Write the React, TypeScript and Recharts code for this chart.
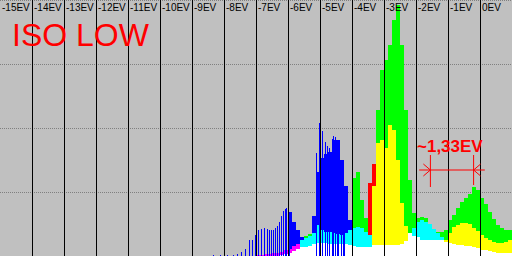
import React from "react";
import { ComposedChart, Area, Bar, XAxis, YAxis, CartesianGrid, ReferenceLine } from "recharts";

// histogram bins: 4px wide, starting at -7EV, 1/8 EV per bin
const binStart = -7;
const binStep = 0.125;

const blueBody = [
  0, 0, 0, 0, 0, 0, 0, 0, 44, 34, 26, 19, 19, 22, 40, 84,
  98, 102, 104, 116, 116, 96, 70, 36, 0, 0, 0, 0, 0, 0, 0, 0,
  0, 0, 0, 0, 0, 0, 0, 0, 0, 0, 0, 27, 24, 0, 0, 0,
  0, 0, 0, 0, 0, 0, 0, 0, 0, 0, 0, 0, 0, 0, 0, 0,
];
const green = [
  0, 0, 0, 0, 0, 0, 0, 0, 0, 0, 0, 0, 20, 22, 16, 0,
  0, 0, 0, 0, 0, 0, 0, 0, 78, 84, 56, 38, 28, 26, 146, 186,
  196, 211, 236, 251, 211, 146, 76, 43, 38, 39, 38, 31, 26, 24, 24, 26,
  36, 41, 48, 54, 58, 62, 69, 66, 58, 52, 44, 37, 31, 28, 26, 26,
];
const red = [
  0, 0, 0, 0, 0, 0, 0, 0, 0, 0, 0, 0, 0, 0, 0, 0,
  0, 0, 0, 0, 0, 0, 0, 0, 0, 0, 0, 0, 73, 92, 0, 0,
  0, 0, 0, 0, 0, 0, 0, 0, 0, 0, 0, 0, 0, 0, 0, 0,
  0, 0, 0, 0, 0, 0, 0, 0, 0, 0, 0, 0, 0, 0, 0, 0,
];
const yellow = [
  0, 0, 0, 0, 0, 0, 0, 0, 0, 0, 0, 0, 0, 0, 0, 0,
  0, 0, 0, 0, 0, 0, 0, 0, 0, 0, 0, 0, 16, 70, 113, 116,
  108, 131, 126, 96, 53, 30, 23, 0, 0, 0, 0, 0, 0, 0, 0, 16,
  23, 29, 31, 33, 33, 32, 28, 25, 21, 18, 16, 14, 13, 13, 14, 16,
];
const magenta = [
  1, 1, 2, 2, 3, 3, 4, 6, 7, 10, 12, 0, 0, 0, 0, 0,
  0, 0, 0, 0, 0, 0, 0, 0, 0, 0, 0, 0, 0, 0, 0, 0,
  0, 0, 0, 0, 0, 0, 0, 0, 0, 0, 0, 0, 0, 0, 0, 0,
  0, 0, 0, 0, 0, 0, 0, 0, 0, 0, 0, 0, 0, 0, 0, 0,
];
const cyan = [
  0, 0, 0, 0, 0, 0, 0, 0, 0, 0, 0, 16, 18, 20, 23, 31,
  26, 24, 24, 23, 22, 21, 23, 26, 28, 29, 28, 24, 21, 0, 0, 0,
  0, 0, 0, 0, 0, 0, 0, 28, 34, 36, 34, 32, 27, 23, 19, 14,
  0, 0, 0, 0, 0, 0, 0, 0, 0, 0, 0, 0, 0, 0, 0, 0,
];
const white = [
  0, 0, 0, 0, 0, 0, 1, 2, 3, 5, 7, 9, 9, 10, 12, 13,
  13, 13, 12, 12, 12, 12, 12, 11, 10, 9, 9, 9, 9, 11, 11, 11,
  11, 11, 11, 11, 12, 15, 23, 20, 19, 16, 16, 16, 16, 16, 16, 14,
  13, 12, 11, 11, 10, 10, 9, 8, 6, 6, 5, 4, 3, 3, 3, 3,
];

// single-column blue spikes (comb on the dark side, tall lines in the main blue peak)
const spikeEv = [
  -8.328, -8.109, -7.891, -7.703, -7.578, -7.453, -7.328, -7.203, -7.109, -7.016,
  -6.922, -6.828, -6.734, -6.641, -6.578, -6.516, -6.453, -6.391, -6.328, -6.266,
  -6.203, -6.141, -6.078, -6.047, -5.984, -5.953,
  -5.109, -5.016, -4.922, -4.828, -4.766, -4.703, -4.609, -4.578, -4.516, -4.453,
  -4.422, -4.328, -4.266, -4.234,
];
const spikeH = [
  1, 1, 1, 1, 2, 4, 7, 16, 16, 21,
  26, 27, 28, 27, 26, 26, 26, 28, 30, 34,
  40, 45, 47, 48, 46, 42,
  103, 133, 125, 114, 110, 108, 117, 120, 119, 114,
  103, 88, 76, 66,
];

const evTicks = [-15, -14, -13, -12, -11, -10, -9, -8, -7, -6, -5, -4, -3, -2, -1, 0];
const gridLevels = [64, 128, 192];

// the ~1,33EV marker
const markerEv = [-1.55, -0.2];
const markerY = 86;

const layers: [string, number[], string][] = [
  ["blue", blueBody, "#0000ff"],
  ["green", green, "#00ff00"],
  ["red", red, "#ff0000"],
  ["yellow", yellow, "#ffff00"],
  ["magenta", magenta, "#ff00ff"],
  ["cyan", cyan, "#00ffff"],
  ["white", white, "#ffffff"],
];

const binRows = green.map((_, i) => {
  const row: Record<string, number> = { ev: binStart + i * binStep };
  layers.forEach(([key, arr]) => (row[key] = arr[i]));
  return row;
});
// closing edge so the last step reaches 1EV
binRows.push({ ...binRows[binRows.length - 1], ev: binStart + green.length * binStep });
const spikeRows = spikeEv.map((ev, i) => ({ ev, spike: spikeH[i] }));
const data = [...binRows, ...spikeRows].sort((a, b) => a.ev - b.ev);

function EvTick({ x, payload }: any) {
  return (
    <text x={x + 2} y={11} fontSize={10} fontFamily="Liberation Sans, Arial, sans-serif" fill="#000">
      {`${payload.value}EV`}
    </text>
  );
}

const red1 = { stroke: "#ff0000", strokeWidth: 1 };

export default function App() {
  const [l, r] = markerEv;
  const a = 0.22;
  return (
    <div style={{ position: "absolute", left: 0, top: 0, width: 512, height: 256, background: "#c0c0c0" }}>
      <ComposedChart width={512} height={256} data={data} margin={{ top: 0, right: 0, bottom: 0, left: 0 }}>
        <CartesianGrid vertical={false} stroke="#808080" strokeDasharray="1 1" shapeRendering="crispEdges" />
        <XAxis
          type="number"
          dataKey="ev"
          domain={[-15, 1]}
          ticks={evTicks}
          interval={0}
          orientation="top"
          mirror
          axisLine={false}
          tickLine={false}
          tick={<EvTick />}
          allowDataOverflow
        />
        <YAxis hide domain={[0, 256]} ticks={gridLevels} allowDataOverflow />
        <Bar dataKey="spike" fill="#0000ff" barSize={1} shapeRendering="crispEdges" isAnimationActive={false} />
        {layers.map(([key, , color]) => (
          <Area
            key={key}
            dataKey={key}
            type="stepAfter"
            stroke="none"
            fill={color}
            fillOpacity={1}
            connectNulls
            dot={false}
            activeDot={false}
            isAnimationActive={false}
          />
        ))}
        {evTicks.slice(1).map((v) => (
          <ReferenceLine key={v} x={v} stroke="#000" strokeWidth={1} shapeRendering="crispEdges" />
        ))}
        <ReferenceLine segment={[{ x: l - 0.35, y: markerY }, { x: r + 0.35, y: markerY }]} {...red1} />
        <ReferenceLine segment={[{ x: l, y: markerY + 15 }, { x: l, y: markerY - 17 }]} {...red1} />
        <ReferenceLine segment={[{ x: r, y: markerY + 15 }, { x: r, y: markerY - 15 }]} {...red1} />
        <ReferenceLine segment={[{ x: l - a, y: markerY + 6 }, { x: l, y: markerY }]} {...red1} />
        <ReferenceLine segment={[{ x: l - a, y: markerY - 6 }, { x: l, y: markerY }]} {...red1} />
        <ReferenceLine segment={[{ x: r + a, y: markerY + 6 }, { x: r, y: markerY }]} {...red1} />
        <ReferenceLine segment={[{ x: r + a, y: markerY - 6 }, { x: r, y: markerY }]} {...red1} />
      </ComposedChart>
      <div
        style={{
          position: "absolute", left: 12, top: 19, fontSize: 32, lineHeight: 1,
          fontFamily: "Liberation Sans, Arial, sans-serif", color: "#ff0000", whiteSpace: "nowrap",
        }}
      >
        ISO LOW
      </div>
      <div
        style={{
          position: "absolute", left: 417, top: 138, fontSize: 17, lineHeight: 1, fontWeight: "bold",
          fontFamily: "Liberation Sans, Arial, sans-serif", color: "#ff0000", whiteSpace: "nowrap",
        }}
      >
        ~1,33EV
      </div>
    </div>
  );
}
